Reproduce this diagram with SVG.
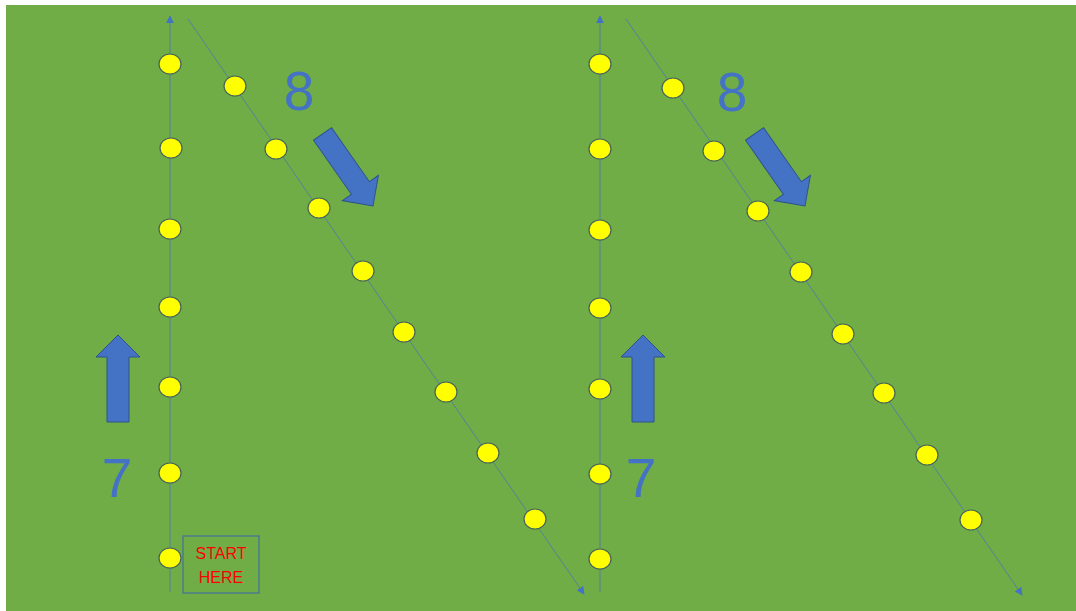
<svg xmlns="http://www.w3.org/2000/svg" width="1076" height="611" viewBox="0 0 1076 611">
<style>
.bg{fill:#70AD47}
.ln{stroke:#4A74B4;stroke-width:1;fill:none;stroke-opacity:0.75}
.dot{fill:#FFFF00;stroke:#45625a;stroke-width:1.2}
.arr{fill:#4472C4;stroke:#2F528F;stroke-width:1}
.num{font-family:"Liberation Sans",Arial,sans-serif;font-size:55px;fill:#4472C4;text-anchor:middle}
.st{font-family:"Liberation Sans",Arial,sans-serif;font-size:16px;fill:#FF0000;text-anchor:middle}
</style>
<defs>
<marker id="tri" viewBox="0 0 10 10" refX="9" refY="5" markerWidth="8" markerHeight="8" markerUnits="userSpaceOnUse" orient="auto">
<path d="M0,0 L10,5 L0,10 Z" fill="#4472C4"/>
</marker>
<polygon id="up" points="0,0 22,22 11,22 11,87 -11,87 -11,22 -22,22"/>
<polygon id="diag" points="0,0 -22,-22 -22,-11 -88,-11 -88,11 -22,11 -22,22"/>
</defs>
<rect x="0" y="0" width="1076" height="611" fill="#FFFFFF"/>
<rect class="bg" x="6" y="5" width="1070" height="606"/>
<g id="connectors">
<line class="ln" x1="170" y1="592" x2="170" y2="16" marker-end="url(#tri)"/>
<line class="ln" x1="188" y1="19" x2="584" y2="594" marker-end="url(#tri)"/>
<line class="ln" x1="600" y1="592" x2="600" y2="16" marker-end="url(#tri)"/>
<line class="ln" x1="626" y1="19" x2="1022" y2="595" marker-end="url(#tri)"/>
</g>
<g id="dots-left-vertical">
<ellipse class="dot" cx="170" cy="64" rx="11" ry="10"/>
<ellipse class="dot" cx="171" cy="148" rx="11" ry="10"/>
<ellipse class="dot" cx="170" cy="229" rx="11" ry="10"/>
<ellipse class="dot" cx="170" cy="307" rx="11" ry="10"/>
<ellipse class="dot" cx="170" cy="387" rx="11" ry="10"/>
<ellipse class="dot" cx="170" cy="473" rx="11" ry="10"/>
<ellipse class="dot" cx="170" cy="558" rx="11" ry="10"/>
</g>
<g id="dots-left-diagonal">
<ellipse class="dot" cx="235" cy="86" rx="11" ry="10"/>
<ellipse class="dot" cx="276" cy="149" rx="11" ry="10"/>
<ellipse class="dot" cx="319" cy="208" rx="11" ry="10"/>
<ellipse class="dot" cx="363" cy="271" rx="11" ry="10"/>
<ellipse class="dot" cx="404" cy="332" rx="11" ry="10"/>
<ellipse class="dot" cx="446" cy="392" rx="11" ry="10"/>
<ellipse class="dot" cx="488" cy="453" rx="11" ry="10"/>
<ellipse class="dot" cx="535" cy="519" rx="11" ry="10"/>
</g>
<g id="dots-right-vertical">
<ellipse class="dot" cx="600" cy="64" rx="11" ry="10"/>
<ellipse class="dot" cx="600" cy="149" rx="11" ry="10"/>
<ellipse class="dot" cx="600" cy="230" rx="11" ry="10"/>
<ellipse class="dot" cx="600" cy="308" rx="11" ry="10"/>
<ellipse class="dot" cx="600" cy="389" rx="11" ry="10"/>
<ellipse class="dot" cx="600" cy="474" rx="11" ry="10"/>
<ellipse class="dot" cx="600" cy="559" rx="11" ry="10"/>
</g>
<g id="dots-right-diagonal">
<ellipse class="dot" cx="673" cy="88" rx="11" ry="10"/>
<ellipse class="dot" cx="714" cy="151" rx="11" ry="10"/>
<ellipse class="dot" cx="758" cy="211" rx="11" ry="10"/>
<ellipse class="dot" cx="801" cy="272" rx="11" ry="10"/>
<ellipse class="dot" cx="843" cy="334" rx="11" ry="10"/>
<ellipse class="dot" cx="884" cy="393" rx="11" ry="10"/>
<ellipse class="dot" cx="927" cy="455" rx="11" ry="10"/>
<ellipse class="dot" cx="971" cy="520" rx="11" ry="10"/>
</g>
<g id="arrow-up-left"><use href="#up" class="arr" transform="translate(118,335)"/></g>
<g id="arrow-up-right"><use href="#up" class="arr" transform="translate(643,335)"/></g>
<g id="arrow-diag-left"><use href="#diag" class="arr" transform="translate(373,206) rotate(55)"/></g>
<g id="arrow-diag-right"><use href="#diag" class="arr" transform="translate(805,206) rotate(55)"/></g>
<g id="label-7-left"><text class="num" x="117" y="497">7</text></g>
<g id="label-7-right"><text class="num" x="641" y="497">7</text></g>
<g id="label-8-left"><text class="num" x="299" y="110">8</text></g>
<g id="label-8-right"><text class="num" x="732" y="111">8</text></g>
<g id="start-here">
<rect x="183" y="536" width="76" height="57" fill="none" stroke="#41719C" stroke-width="1.2"/>
<text class="st" x="221" y="559">START</text>
<text class="st" x="221" y="583">HERE</text>
</g>
</svg>
